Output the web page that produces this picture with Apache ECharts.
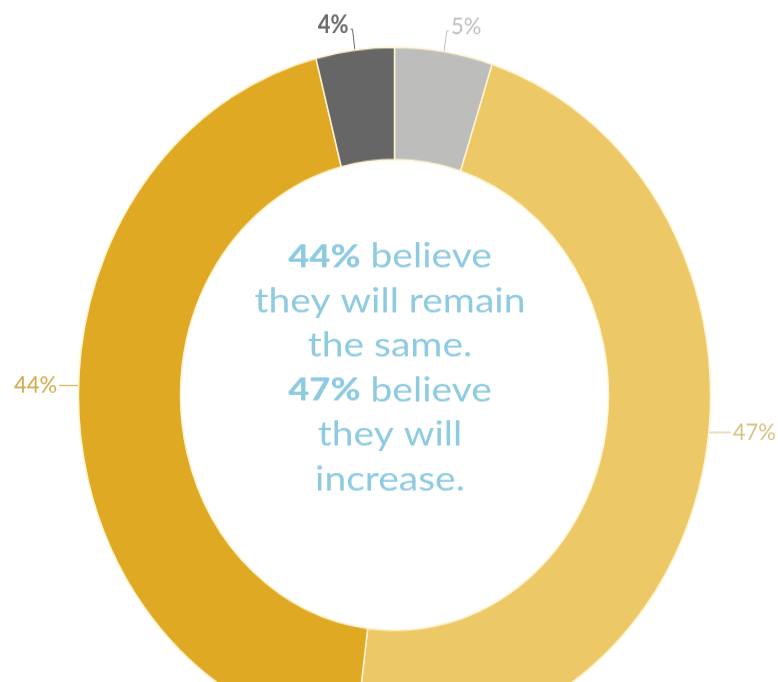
<!DOCTYPE html>
<html>
<head>
<meta charset="utf-8">
<title>Expectations</title>
<script src="https://cdn.jsdelivr.net/npm/echarts@6/dist/echarts.min.js"></script>
<style>
  html, body { margin: 0; padding: 0; background: #ffffff; overflow: hidden; }
  #wrap { width: 778px; height: 682px; overflow: hidden; position: relative; }
  /* the chart is drawn slightly taller than wide */
  #chart { width: 778px; height: 620px; transform: scaleY(1.1); transform-origin: 0 0; }
</style>
</head>
<body>
<div id="wrap"><div id="chart"></div></div>
<script>
// Answer categories, clockwise from twelve o'clock
const categories = ['Decrease a lot', 'Increase', 'Remain the same', 'Decrease'];
const shares = [5, 47, 44, 4];
const sliceColors = ['#bdbdbb', '#ecc866', '#dfa924', '#666666'];
const labelColors = ['#bfbfbd', '#d6c286', '#cdab4a', '#6a6a6a'];
const labelWeights = ['normal', 'normal', 'normal', 'bold'];
const leaderLengths = [[19, 2], [10, 18], [8, 12], [19, 2]];
// vertical nudge of each label; side labels get a straight leader to the ring
const labelShift = [-4, -37, -29, -4];
const sideLabel = [false, true, true, false];

// Centre caption, one entry per line: [bold lead, regular text]
const centerLines = [
  ['44%', ' believe'],
  ['', 'they will remain'],
  ['', 'the same.'],
  ['47%', ' believe'],
  ['', 'they will'],
  ['', 'increase.']
];

const CX = 394.5, CY = 359;
const R_IN = 214, R_OUT = 316;
const TEXT_X = 390, TEXT_TOP = 233.5, TEXT_STEP = 40.5;
const textFont = 'Lato, "Open Sans", sans-serif';

const chart = echarts.init(document.getElementById('chart'), null, { renderer: 'canvas' });

const data = categories.map((name, i) => ({
  name,
  value: shares[i],
  itemStyle: { color: sliceColors[i] },
  label: { color: labelColors[i], fontWeight: labelWeights[i] },
  labelLine: {
    length: leaderLengths[i][0],
    length2: leaderLengths[i][1],
    lineStyle: { color: labelColors[i], width: 1 }
  }
}));

const caption = centerLines.map((parts, i) => ({
  type: 'text',
  x: TEXT_X,
  y: TEXT_TOP + i * TEXT_STEP,
  scaleX: 1.3,
  silent: true,
  style: {
    text: (parts[0] ? '{b|' + parts[0] + '}' : '') + '{n|' + parts[1] + '}',
    align: 'center',
    verticalAlign: 'middle',
    rich: {
      b: { fontFamily: textFont, fontWeight: 900, fontSize: 28, fill: '#8fcbe0' },
      n: { fontFamily: textFont, fontWeight: 400, fontSize: 30, fill: '#8fcbe0' }
    }
  }
}));

function layoutLabel(params) {
  const i = params.dataIndex;
  const dy = labelShift[i];
  const pts = params.labelLinePoints;
  if (!sideLabel[i] || !pts) {
    return { dy: dy };
  }
  // straight leader from the outer edge of the ring to the moved label
  const end = pts[pts.length - 1];
  const y = end[1] + dy;
  const side = end[0] < CX ? -1 : 1;
  const ringX = CX + side * Math.sqrt(R_OUT * R_OUT - (y - CY) * (y - CY));
  return {
    dy: dy,
    labelLinePoints: [[ringX, y], [(ringX + end[0]) / 2, y], [end[0], y]]
  };
}

chart.setOption({
  animation: false,
  series: [{
    type: 'pie',
    center: [CX, CY],
    radius: [R_IN, R_OUT],
    startAngle: 90,
    clockwise: true,
    avoidLabelOverlap: false,
    itemStyle: { borderColor: '#fff4d2', borderWidth: 1.5 },
    label: {
      show: true,
      position: 'outside',
      formatter: '{d}%',
      fontFamily: textFont,
      fontSize: 22,
      distanceToLabelLine: 2
    },
    labelLine: { show: true, smooth: false },
    labelLayout: layoutLabel,
    emphasis: { disabled: true },
    data
  }],
  graphic: caption
});
</script>
</body>
</html>
